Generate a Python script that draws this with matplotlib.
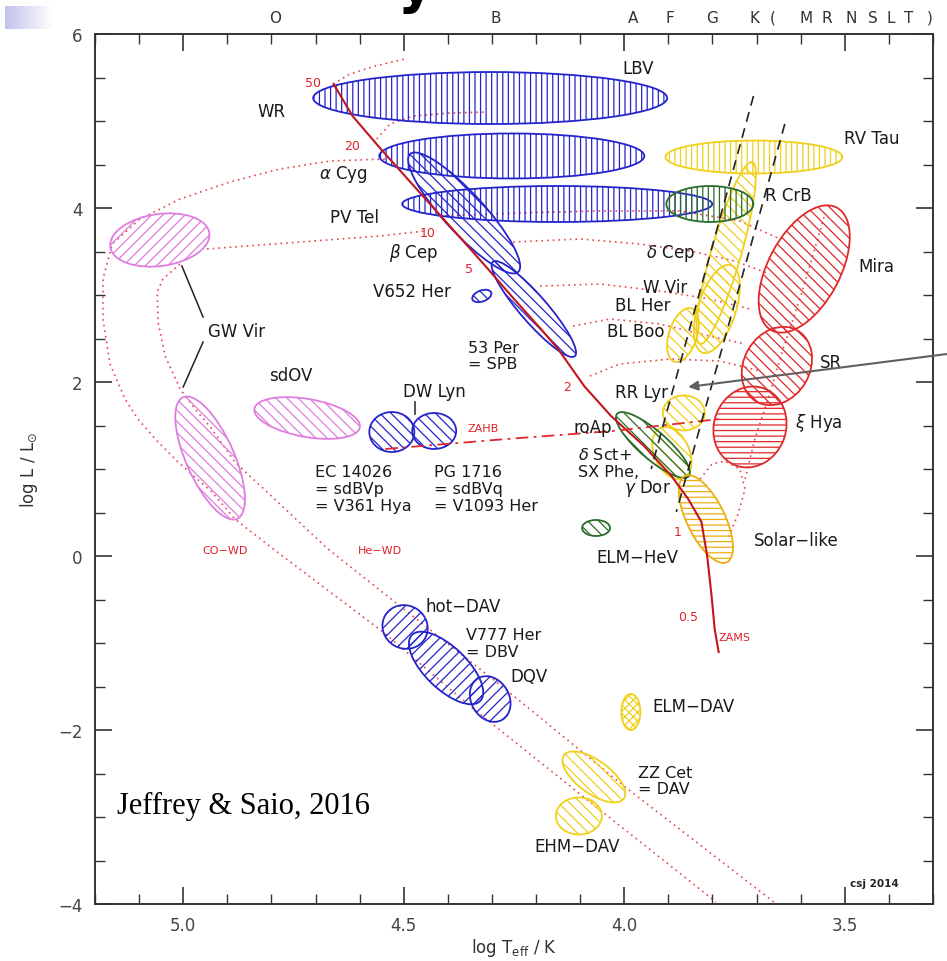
import numpy as np
import matplotlib
matplotlib.use("Agg")
import matplotlib.pyplot as plt
from matplotlib.patches import Ellipse
from matplotlib.transforms import Affine2D
from matplotlib.ticker import MultipleLocator, FixedLocator
from matplotlib.colors import LinearSegmentedColormap

plt.rcParams['font.family'] = ['DejaVu Sans']
plt.rcParams['mathtext.fontset'] = 'dejavusans'
plt.rcParams['hatch.linewidth'] = 0.9

# ---------------- data ----------------
# zero-age main sequence
zams_logT = [4.659, 4.616, 4.552, 4.477, 4.416, 4.355, 4.309, 4.250, 4.189, 4.150,
             4.091, 4.030, 3.955, 3.893, 3.855, 3.825, 3.812, 3.802, 3.795, 3.786]
zams_logL = [5.425, 5.057, 4.678, 4.253, 3.908, 3.563, 3.299, 2.954, 2.609, 2.379,
             1.954, 1.609, 1.264, 0.920, 0.655, 0.391, 0.000, -0.460, -0.839, -1.103]
mass_labels = ['50', '20', '10', '5', '2', '1', '0.5']
mass_logT = [4.706, 4.617, 4.445, 4.352, 4.130, 3.880, 3.855]
mass_logL = [5.448, 4.724, 3.724, 3.310, 1.954, 0.287, -0.701]

# zero-age horizontal branch
zahb_logT = [4.542, 4.266, 4.026, 3.783]
zahb_logL = [1.230, 1.345, 1.437, 1.575]

# classical instability strip edges
strip_blue_logT = [3.707, 3.939]
strip_blue_logL = [5.287, 1.000]
strip_red_logT = [3.636, 3.882]
strip_red_logL = [4.966, 0.506]

# evolutionary tracks (dotted)
tracks = {
    'co_wd': ([4.543, 4.667, 4.781, 4.894, 5.007, 5.098, 5.161, 5.182, 5.182, 5.166, 5.132,
               5.103, 5.057, 5.012, 4.935, 4.883, 4.796, 4.547, 4.350, 4.078, 3.792],
              [4.563, 4.540, 4.448, 4.299, 4.103, 3.874, 3.586, 3.184, 2.724, 2.207, 1.805,
               1.575, 1.310, 1.081, 0.736, 0.425, 0.081, -0.873, -1.724, -2.827, -3.977]),
    'he_wd': ([5.007, 5.046, 5.059, 5.057, 5.041, 5.007, 4.973, 4.935, 4.883, 4.776, 4.672,
               4.520, 4.270, 4.001, 3.661],
              [3.356, 3.184, 3.035, 2.690, 2.299, 1.920, 1.690, 1.460, 1.081, 0.575, 0.081,
               -0.529, -1.529, -2.643, -3.977]),
    'm10_blue': ([4.946, 4.735, 4.554, 4.452], [3.529, 3.609, 3.678, 3.736]),
    'm10_red': ([4.418, 4.236, 4.055, 3.874, 3.738, 3.647], [3.908, 3.943, 3.966, 3.966, 3.851, 3.644]),
    'm5': ([4.252, 4.100, 3.964, 3.851, 3.749, 3.670], [3.609, 3.644, 3.586, 3.506, 3.391, 3.241]),
    'm3': ([4.191, 4.055, 3.919, 3.806, 3.715], [3.103, 3.126, 3.046, 2.954, 2.839]),
    'm25': ([4.116, 4.032, 3.919, 3.828, 3.726], [2.644, 2.724, 2.667, 2.552, 2.437]),
    'm2': ([4.078, 4.010, 3.896, 3.783, 3.692], [2.069, 2.207, 2.264, 2.241, 2.126]),
    'm1': ([3.828, 3.801, 3.772, 3.738, 3.726, 3.742, 3.765], [0.885, 1.058, 1.092, 1.000, 0.770, 0.483, 0.196]),
    'rgb': ([3.726, 3.704, 3.674, 3.640, 3.602, 3.568, 3.545], [0.885, 1.345, 1.805, 2.379, 2.954, 3.529, 3.931]),
    'm50': ([4.660, 4.622, 4.565, 4.497], [5.425, 5.540, 5.632, 5.713]),
    'm30': ([4.561, 4.531, 4.479, 4.395, 4.311], [4.793, 4.966, 5.057, 5.092, 5.103]),
}

# pulsator regions: centre (logT, logL), axis lengths (px), tilt (deg), colour, hatch
region_names = ['GW Vir 1', 'GW Vir 2', 'sdOV', 'LBV', 'alpha Cyg', 'PV Tel', 'beta Cep', '53 Per',
                'V652 Her', 'DW Lyn 1', 'DW Lyn 2', 'hot-DAV', 'DBV', 'DQV',
                'RV Tau', 'delta Cep', 'W Vir', 'BL Boo', 'RR Lyr', 'delta Sct',
                'R CrB', 'roAp', 'ELM-HeV', 'Solar-like', 'Mira', 'SR', 'xi Hya',
                'ELM-DAV', 'ZZ Cet', 'EHM-DAV']
region_logT = [5.053, 4.939, 4.719, 4.304, 4.255, 4.152, 4.363, 4.205,
               4.323, 4.527, 4.431, 4.497, 4.404, 4.304,
               3.706, 3.769, 3.790, 3.867, 3.865, 3.892,
               3.806, 3.935, 4.064, 3.815, 3.592, 3.654, 3.715,
               3.985, 4.069, 4.103]
region_logL = [3.632, 1.126, 1.586, 5.264, 4.598, 4.046, 3.943, 2.839,
               2.989, 1.425, 1.437, -0.816, -1.287, -1.644,
               4.586, 3.483, 2.839, 2.540, 1.644, 1.184,
               4.046, 1.276, 0.322, 0.425, 3.299, 2.184, 1.483,
               -1.793, -2.540, -2.988]
region_major = [100, 133, 107, 354, 265, 310, 160, 125,
                20, 45, 44, 46, 95, 48,
                177, 189, 92, 56, 42, 55,
                87, 95, 28, 96, 139, 82, 82,
                36, 74, 46]
region_minor = [52, 48, 38, 52, 45, 36, 40, 27,
                11, 40, 36, 43, 42, 38,
                33, 30, 38, 28, 35, 35,
                36, 28, 16, 38, 72, 66, 72,
                19, 33, 37]
region_angle = [8, -66, -10, 0, 0, 0, -47.5, -49,
                20, 0, 0, -30, -44, -60,
                0, 74, 72, 72, 0, -65,
                0, -41, 0, -64, 62, 60, 70,
                90, -36, 0]
region_group = ['pink', 'pink', 'pink', 'blue', 'blue', 'blue', 'blue', 'blue',
                'blue', 'blue', 'blue', 'blue', 'blue', 'blue',
                'yellow', 'yellow', 'yellow', 'yellow', 'yellow', 'yellow',
                'green', 'green', 'green', 'orange', 'red', 'red', 'red',
                'yellow', 'yellow', 'yellow']
region_hatch = ['///', '\\\\\\', '\\\\\\', '|||', '|||', '|||', '\\\\\\', '\\\\\\',
                '\\\\\\', '\\\\\\', '\\\\\\', '///', '///', '///',
                '|||', '\\\\\\', '\\\\\\', '\\\\\\', '\\\\\\', '\\\\\\',
                '|||', '\\\\\\', '\\\\\\', '---', '\\\\\\', '\\\\\\', '---',
                'xxxx', '\\\\\\', '\\\\\\']

# labels
label_text = ['LBV', 'WR', r'$\alpha$ Cyg', 'PV Tel', r'$\beta$ Cep', 'V652 Her', 'GW Vir', 'sdOV',
              'DW Lyn', 'RR Lyr', 'BL Boo', 'BL Her', 'W Vir', r'$\delta$ Cep', 'R CrB', 'RV Tau',
              'Mira', 'SR', r'$\xi$ Hya', 'roAp', r'$\gamma$ Dor', 'ELM\u2212HeV', 'Solar\u2212like',
              'hot\u2212DAV', 'DQV', 'ELM\u2212DAV', 'EHM\u2212DAV']
label_logT = [3.969, 4.799, 4.638, 4.611, 4.477, 4.481, 4.880, 4.756,
              4.431, 3.962, 3.973, 3.958, 3.908, 3.896, 3.629, 3.438,
              3.429, 3.531, 3.558, 4.071, 3.948, 3.971, 3.611,
              4.366, 4.216, 3.844, 4.107]
label_logL = [5.609, 5.115, 4.391, 3.897, 3.494, 3.046, 2.586, 2.080,
              1.897, 1.885, 2.586, 2.885, 3.092, 3.494, 4.149, 4.805,
              3.333, 2.230, 1.540, 1.483, 0.793, -0.011, 0.184,
              -0.575, -1.379, -1.724, -3.333]

left_label_text = ['53 Per', '= SPB', 'EC 14026', '= sdBVp', '= V361 Hya',
                   'PG 1716', '= sdBVq', '= V1093 Her', r'$\delta$ Sct+', 'SX Phe,',
                   'V777 Her', '= DBV', 'ZZ Cet', '= DAV']
left_label_logT = [4.354, 4.354, 4.701, 4.701, 4.701, 4.431, 4.431, 4.431, 4.105, 4.105,
                   4.359, 4.359, 3.969, 3.969]
left_label_logL = [2.402, 2.207, 0.977, 0.781, 0.586, 0.977, 0.781, 0.586, 1.172, 0.977,
                   -0.908, -1.103, -2.483, -2.678]

red_label_text = ['ZAHB', 'CO\u2212WD', 'He\u2212WD', 'ZAMS']
red_label_logT = [4.320, 4.905, 4.554, 3.749]
red_label_logL = [1.471, 0.069, 0.069, -0.931]

spec_classes = ['O', 'B', 'A', 'F', 'G', 'K', '(', 'M', 'R', 'N', 'S', 'L', 'T', ')']
spec_logT = [4.792, 4.291, 3.980, 3.896, 3.801, 3.704, 3.663, 3.588, 3.540, 3.486,
             3.436, 3.395, 3.354, 3.307]

# ---------------- figure ----------------
W, H = 947, 962
fig = plt.figure(figsize=(W / 100, H / 100), dpi=100)
ax = fig.add_axes([95 / W, 57 / H, 838 / W, 870 / H])
ax.set_xlim(5.2, 3.3)
ax.set_ylim(-4, 6)

colours = {'blue': '#2424cc', 'pink': '#df7ddf', 'yellow': '#f0d01a',
           'green': '#2a6c2a', 'red': '#e02828', 'orange': '#edae10'}

bb = ax.get_window_extent()
sx = bb.width / (5.2 - 3.3)
sy = bb.height / 10.0

# dotted tracks
for key, (tx, ty) in tracks.items():
    ax.plot(tx, ty, color='#e8474c', lw=1.2, linestyle=(0, (1, 2.4)), zorder=1)

# regions
for i in range(len(region_names)):
    c = colours[region_group[i]]
    e = Ellipse((0, 0), region_major[i], region_minor[i], angle=region_angle[i],
                facecolor='none', edgecolor=c, hatch=region_hatch[i], lw=1.3, zorder=2)
    e.set_transform(Affine2D().scale(-1 / sx, 1 / sy).translate(region_logT[i], region_logL[i])
                    + ax.transData)
    ax.add_patch(e)

# ZAMS, ZAHB, strip
ax.plot(zams_logT, zams_logL, color='#c2161c', lw=1.5, zorder=3)
ax.plot(zahb_logT, zahb_logL, color='#e0282e', lw=1.3, linestyle=(0, (7, 3, 1.5, 3)), zorder=3)
ax.plot(strip_blue_logT, strip_blue_logL, color='#222222', lw=1.2, linestyle=(0, (6, 4)), zorder=4)
ax.plot(strip_red_logT, strip_red_logL, color='#222222', lw=1.2, linestyle=(0, (6, 4)), zorder=4)

# connector lines
ax.plot([5.003, 4.955], [3.333, 2.747], color='#222222', lw=1.1, zorder=4)
ax.plot([4.955, 5.000], [2.460, 1.943], color='#222222', lw=1.1, zorder=4)
ax.plot([4.474, 4.474], [1.770, 1.632], color='#222222', lw=1.1, zorder=4)

# labels
for t, x, y in zip(label_text, label_logT, label_logL):
    ax.text(x, y, t, fontsize=12, color='#1a1a1a', ha='center', va='center', zorder=5)
for t, x, y in zip(left_label_text, left_label_logT, left_label_logL):
    ax.text(x, y, t, fontsize=11.5, color='#1a1a1a', ha='left', va='center', zorder=5,
            linespacing=1.0)
for t, x, y in zip(red_label_text, red_label_logT, red_label_logL):
    ax.text(x, y, t, fontsize=8, color='#e0202a', ha='center', va='center', zorder=5)
for t, x, y in zip(mass_labels, mass_logT, mass_logL):
    ax.text(x, y, t, fontsize=9, color='#e0202a', ha='center', va='center', zorder=5)

ax.text(3.432, -3.758, 'csj 2014', fontsize=7.5, fontweight='bold', color='#222222',
        ha='center', va='center')
ax.text(5.150, -2.873, 'Jeffrey & Saio, 2016', fontsize=22, family='Liberation Serif',
        color='black', ha='left', va='center')

# arrow from outside
ax.annotate('', xy=(3.855, 1.943), xycoords='data',
            xytext=(1.0, 1 - 355 / H), textcoords='figure fraction',
            arrowprops=dict(arrowstyle='-|>', color='#606060', lw=1.5,
                            mutation_scale=14, shrinkA=0, shrinkB=0),
            annotation_clip=False, zorder=6)

# spectral classes on top
for t, x in zip(spec_classes, spec_logT):
    ax.text(x, 1.0195, t, transform=ax.get_xaxis_transform(), fontsize=11,
            color='#333333', ha='center', va='center', clip_on=False)

# axes styling
ax.xaxis.set_major_locator(FixedLocator([5.0, 4.5, 4.0, 3.5]))
ax.xaxis.set_minor_locator(MultipleLocator(0.1))
ax.yaxis.set_major_locator(MultipleLocator(2))
ax.yaxis.set_minor_locator(MultipleLocator(0.5))
ax.set_xticklabels(['5.0', '4.5', '4.0', '3.5'])
ax.tick_params(which='both', direction='in', top=True, right=True, color='#333333',
               labelsize=12, labelcolor='#444444')
ax.tick_params(which='major', length=12, width=1.2, pad=9)
ax.tick_params(which='minor', length=7, width=1.0)
for s in ax.spines.values():
    s.set_color('#333333')
    s.set_linewidth(1.4)

ax.set_xlabel(r'log T$_{\rm eff}$ / K', fontsize=12, color='#333333', labelpad=1)
ax.set_ylabel(r'log L / L$_{\odot}$', fontsize=12, color='#333333', labelpad=22)
ax.yaxis.set_label_coords(-55 / 838, 0.5)

# slide decorations
deco = fig.add_axes([5 / W, 1 - 30 / H, 47 / W, 23 / H])
grad = np.linspace(0, 1, 64)[None, :]
deco.imshow(grad, aspect='auto', cmap=LinearSegmentedColormap.from_list('lav', ['#c2c2ee', '#ffffff']))
deco.axis('off')
fig.text(415 / W, 1 - 2 / H, 'y', fontsize=40, fontweight='bold', ha='center', va='baseline')

fig.savefig('out.png', dpi=100)
